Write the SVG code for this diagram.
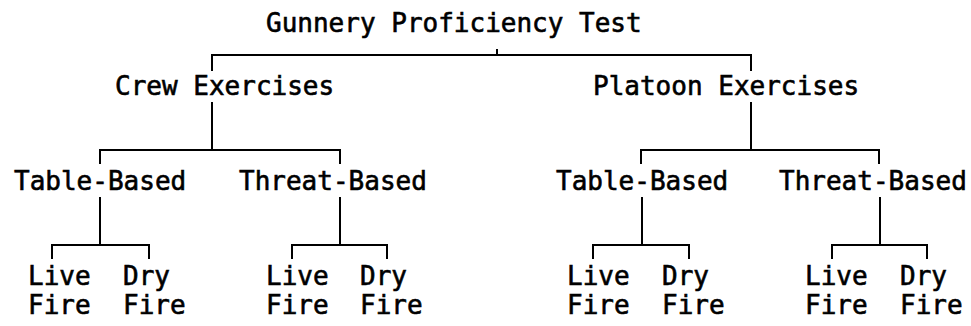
<svg xmlns="http://www.w3.org/2000/svg" width="971" height="326" viewBox="0 0 971 326">
<style>
text{font-family:"DejaVu Sans Mono","Liberation Mono",monospace;font-size:26px;fill:#000;stroke:#000;stroke-width:0.6}
.c path{fill:none;stroke:#000;stroke-width:2;stroke-linecap:square}
</style>
<rect width="971" height="326" fill="#fff"/>
<g class="c" id="connectors">
<path d="M497 50V55"/>
<path d="M212 70V55H751V70"/>
<path d="M212 103V150"/>
<path d="M100 163V150H340V163"/>
<path d="M751 103V150"/>
<path d="M641 163V150H879V163"/>
<path d="M100 198V245"/>
<path d="M52 258V245H149V258"/>
<path d="M340 198V245"/>
<path d="M292 258V245H387V258"/>
<path d="M642 198V245"/>
<path d="M593 258V245H689V258"/>
<path d="M880 198V245"/>
<path d="M832 258V245H927V258"/>
</g>
<g id="gpt"><text x="266" y="32">Gunnery Proficiency Test</text></g>
<g id="crew"><text x="115" y="95">Crew Exercises</text></g>
<g id="platoon"><text x="593" y="95">Platoon Exercises</text></g>
<g id="crew-table"><text x="14" y="190">Table-Based</text></g>
<g id="crew-threat"><text x="239" y="190">Threat-Based</text></g>
<g id="plt-table"><text x="556" y="190">Table-Based</text></g>
<g id="plt-threat"><text x="779" y="190">Threat-Based</text></g>
<g id="ct-live"><text x="28" y="285">Live</text><text x="28" y="314">Fire</text></g>
<g id="ct-dry"><text x="123" y="285">Dry</text><text x="123" y="314">Fire</text></g>
<g id="cth-live"><text x="266" y="285">Live</text><text x="266" y="314">Fire</text></g>
<g id="cth-dry"><text x="360" y="285">Dry</text><text x="360" y="314">Fire</text></g>
<g id="pt-live"><text x="567" y="285">Live</text><text x="567" y="314">Fire</text></g>
<g id="pt-dry"><text x="662" y="285">Dry</text><text x="662" y="314">Fire</text></g>
<g id="pth-live"><text x="805" y="285">Live</text><text x="805" y="314">Fire</text></g>
<g id="pth-dry"><text x="900" y="285">Dry</text><text x="900" y="314">Fire</text></g>
</svg>
